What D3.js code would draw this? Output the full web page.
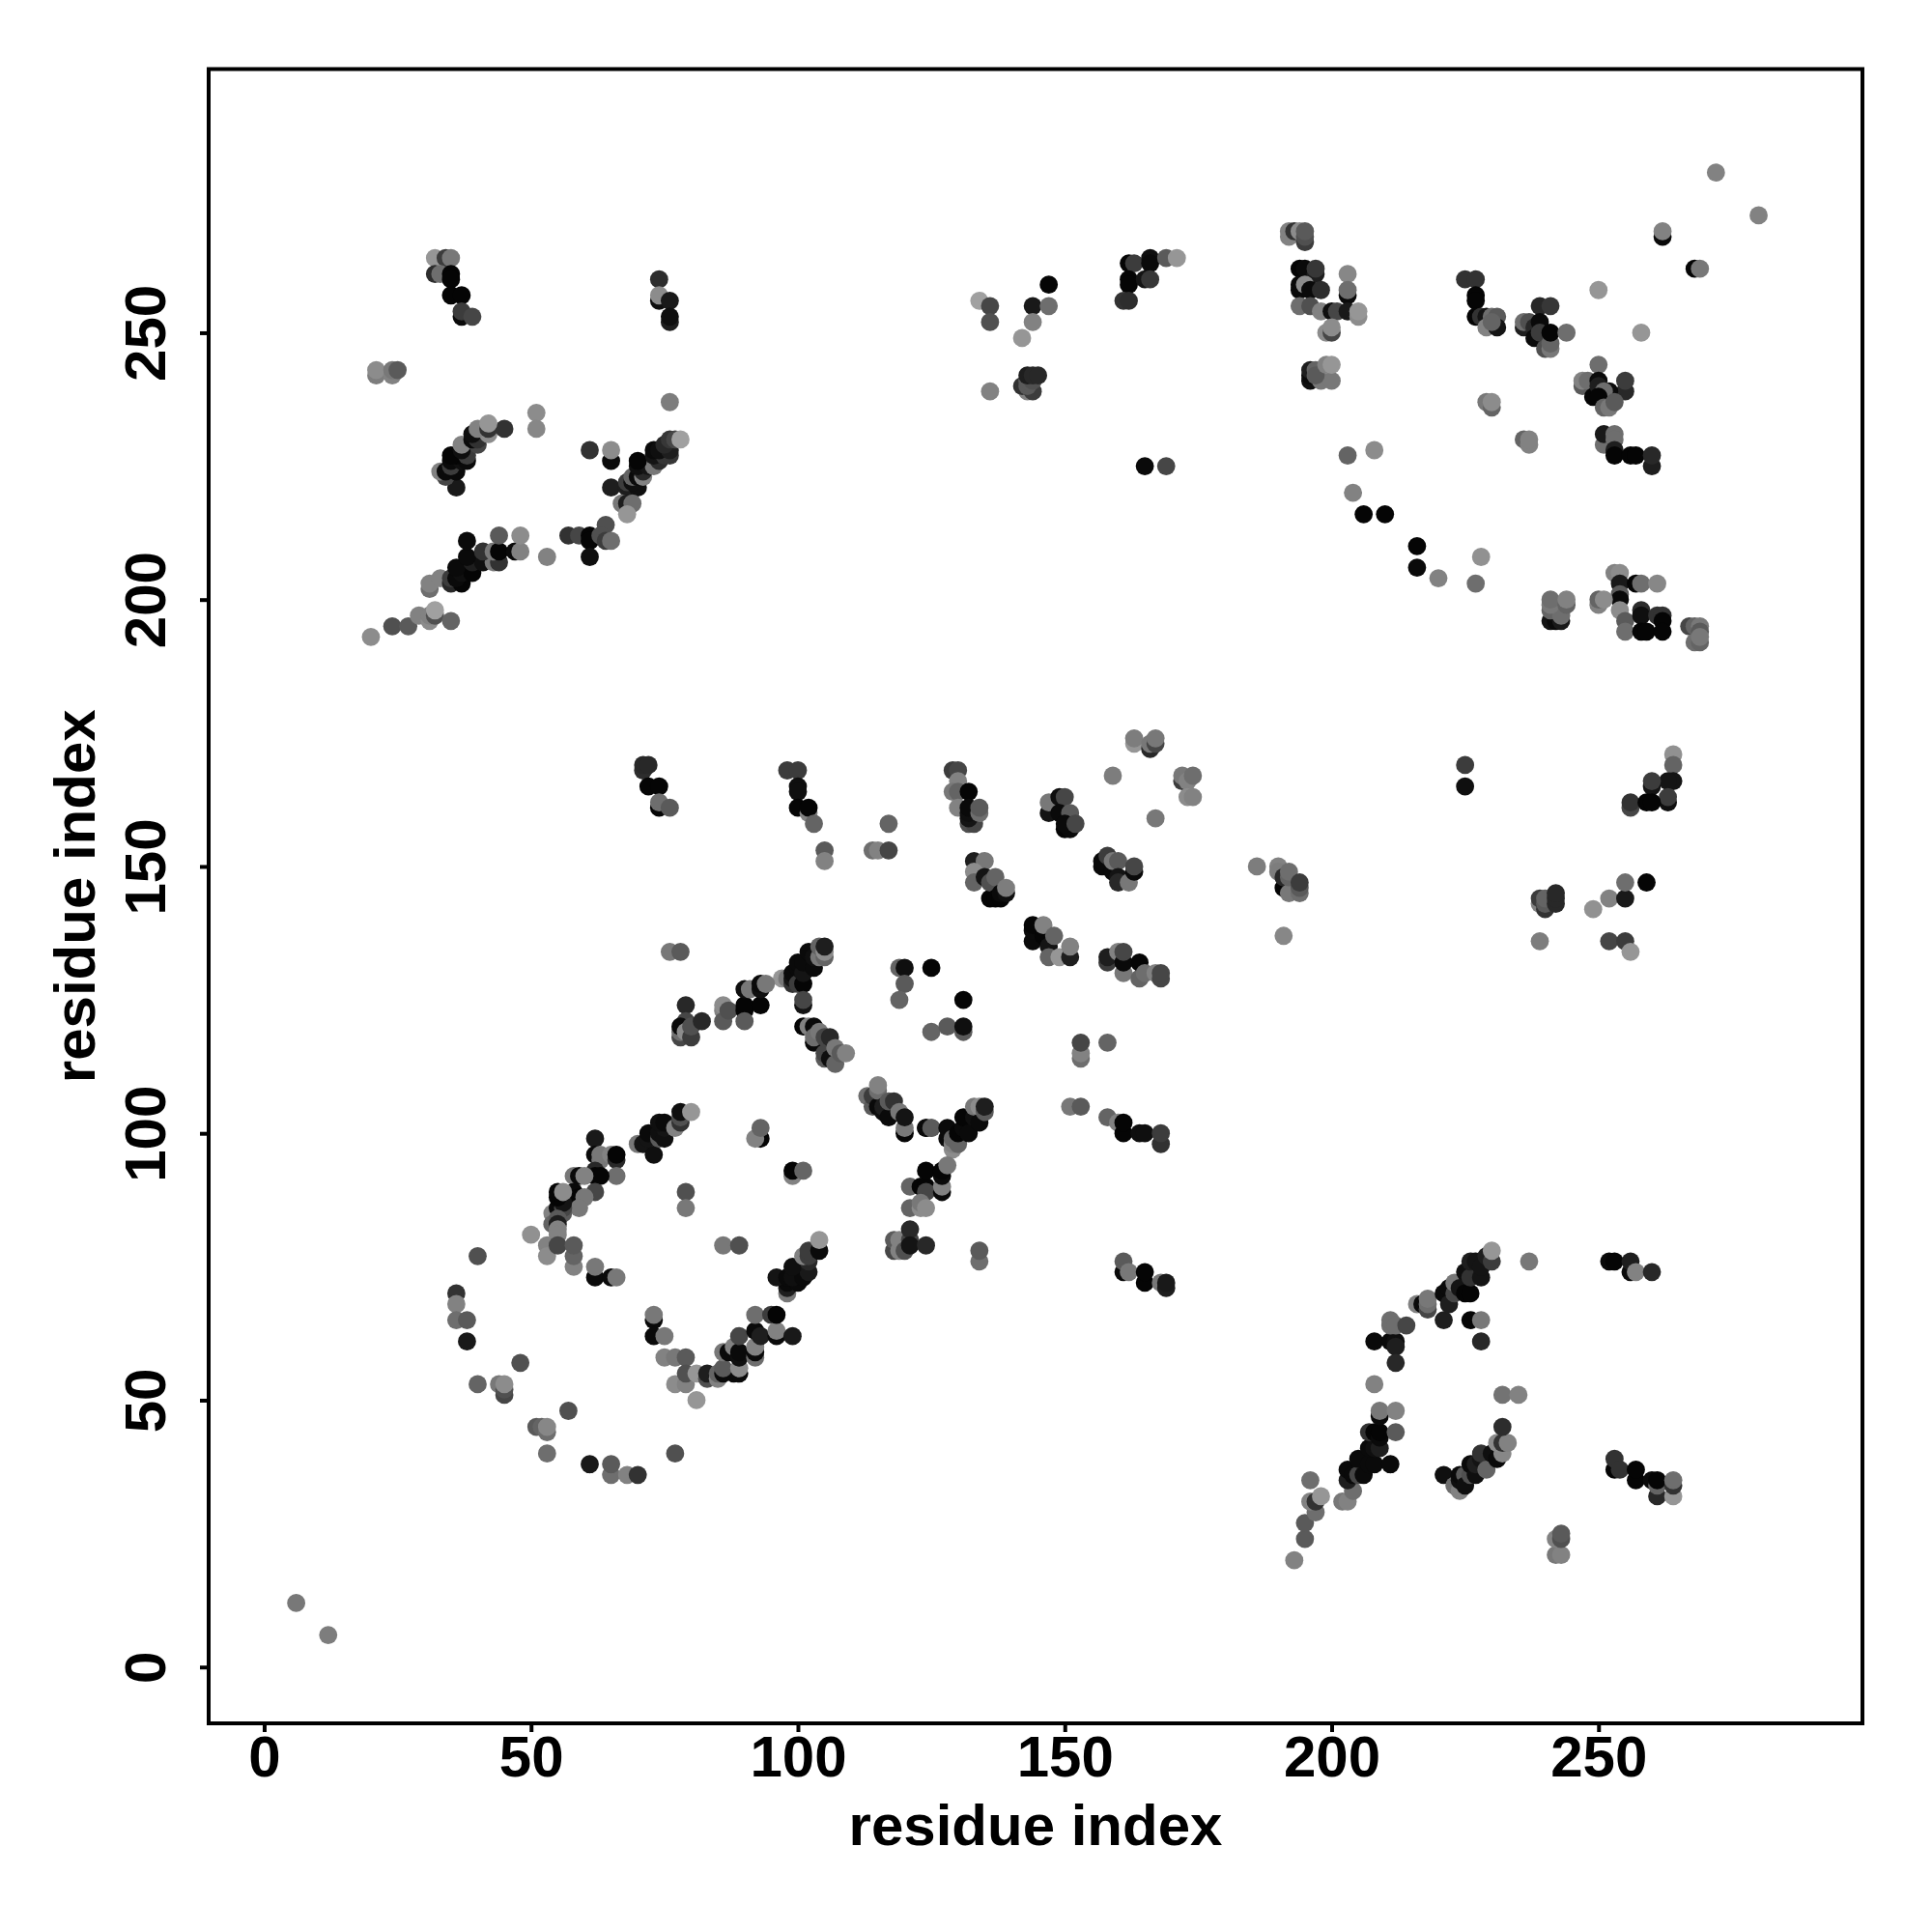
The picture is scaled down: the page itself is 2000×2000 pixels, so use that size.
<!DOCTYPE html>
<html><head><meta charset="utf-8">
<script src="https://cdn.jsdelivr.net/npm/d3@7"></script>
<style>html,body{margin:0;padding:0;background:#fff}svg{display:block}</style></head>
<body><svg id="c" width="2000" height="2000"></svg>
<script>
// each point: [residue i, residue j, grey level]
const cornerPts=[[12,6,125],[6,12,120],[272,280,130],[280,272,130]];
const upperLeftA=[[32,264,150],[34,264,60],[35,264,120],[32,261,45],[33,261,110],[35,261,5],[35,260,5],[35,257,5],[37,257,5],[37,253,10],[37,254,60],[39,253,70],[74,260,45],[74,256,15],[74,257,140],[76,256,25],[76,252,30],[76,253,15],[21,242,125],[21,243,140],[24,242,130],[24,243,120],[25,243,90]];
const upperLeftB=[[36,221,25],[34,223,70],[33,224,130],[34,224,10],[36,224,10],[35,225,60],[35,226,10],[37,226,15],[38,226,10],[36,227,5],[35,227,5],[38,227,60],[37,228,15],[37,229,130],[40,229,70],[39,230,10],[40,230,50],[39,231,15],[42,231,140],[40,232,130],[45,232,50],[42,232,50],[42,233,150],[51,235,140],[51,232,135]];
const upperLeftC=[[65,221,30],[68,221,30],[70,221,15],[68,222,60],[69,222,15],[69,223,100],[70,223,10],[71,223,130],[71,224,40],[70,225,15],[72,225,20],[73,225,120],[70,226,5],[74,226,45],[65,226,10],[65,228,140],[61,228,50],[73,227,20],[75,227,55],[76,227,55],[73,228,10],[74,228,15],[76,228,30],[75,229,40],[76,230,55],[77,230,70],[78,230,160],[76,237,125],[67,218,120],[68,218,30],[69,218,110],[68,216,150],[64,214,80]];
const upperLeftD=[[20,193,140],[24,195,80],[27,195,90],[29,197,130],[31,196,140],[31,197,130],[32,197,80],[32,198,160],[35,196,100],[31,202,110],[31,203,130],[33,204,130],[35,203,40],[37,203,5],[35,204,60],[36,204,10],[37,205,15],[39,205,5],[36,206,10],[39,207,30],[41,207,15],[43,207,120],[44,207,50],[38,208,10],[41,209,50],[43,209,120],[44,209,5],[47,209,10],[48,209,130],[48,212,140],[44,212,90],[38,211,10],[53,208,130],[57,212,50],[59,212,70],[61,212,5],[61,211,5],[61,208,15],[63,212,80],[64,211,60],[65,211,110]];
const upperMid=[[134,256,160],[136,255,70],[136,252,80],[147,259,5],[144,255,25],[147,255,110],[144,252,130],[142,249,150],[136,239,130],[143,239,130],[144,239,60],[142,240,50],[143,240,90],[143,241,90],[144,241,80],[143,242,30],[144,242,40],[145,242,40],[162,263,5],[163,263,60],[166,264,15],[166,263,10],[169,264,90],[171,264,150],[162,260,5],[162,259,5],[165,260,20],[166,260,55],[161,256,50],[162,256,45],[165,225,10],[169,225,70]];
const upperRightA=[[192,268,130],[192,269,130],[193,269,50],[194,269,140],[195,267,60],[195,268,80],[195,269,90],[194,262,5],[195,262,10],[197,261,30],[197,262,55],[194,259,10],[194,258,10],[195,259,140],[196,258,10],[198,258,45],[194,255,110],[196,255,80],[203,261,135],[203,257,10],[203,258,110],[198,254,130],[200,254,15],[201,254,70],[203,254,25],[205,253,140],[205,254,150],[199,250,140],[200,250,70],[200,251,140],[196,241,15],[196,242,10],[196,243,30],[198,241,120],[200,241,120],[197,243,100],[197,242,90],[199,244,130],[200,244,150],[203,227,100],[208,228,140],[204,220,130],[206,216,5],[210,216,5],[216,210,5],[216,206,10],[220,204,130],[228,208,145],[227,203,110]];
const upperRightB=[[225,260,50],[227,260,50],[227,257,5],[227,256,5],[227,253,5],[228,253,50],[229,253,20],[230,253,110],[231,253,90],[229,251,130],[231,251,20],[230,252,100],[236,251,30],[236,252,110],[237,252,80],[239,255,40],[241,255,55],[238,251,40],[239,252,10],[238,249,10],[239,250,60],[240,247,80],[241,247,120],[241,248,100],[241,250,5],[244,250,110],[250,258,150],[258,250,150],[262,268,10],[262,269,130],[268,262,5],[269,262,120]];
const upperRightC=[[250,244,110],[247,240,90],[247,241,130],[248,241,110],[250,241,10],[255,239,40],[255,241,60],[249,238,5],[250,240,30],[252,239,10],[251,239,110],[250,238,5],[251,236,100],[252,236,120],[253,237,90],[229,237,120],[230,236,100],[230,237,140],[236,230,100],[237,229,130],[237,230,130],[251,229,110],[251,231,25],[253,231,110],[253,230,110],[253,228,30],[253,227,5],[256,227,5],[257,227,5],[260,225,30],[260,227,40]];
const upperRightD=[[253,205,130],[254,205,140],[254,203,25],[257,203,5],[258,203,110],[261,203,135],[254,201,90],[254,200,10],[250,199,130],[250,200,100],[251,200,140],[254,198,140],[255,196,90],[255,194,110],[258,198,45],[258,197,15],[258,194,5],[259,194,5],[261,197,50],[262,197,50],[262,196,5],[262,194,5],[267,195,70],[268,195,100],[269,195,120],[269,194,90],[268,192,110],[269,192,100],[269,193,120],[241,196,20],[242,196,10],[243,196,25],[241,198,100],[243,198,110],[243,197,110],[241,199,120],[241,200,110],[244,199,100],[244,200,130]];
const midA=[[71,168,45],[71,169,40],[72,169,40],[72,165,5],[74,165,5],[74,161,5],[74,162,110],[76,161,90],[98,168,60],[100,168,60],[100,165,15],[100,164,15],[100,161,5],[102,160,130],[102,161,5],[103,158,100],[105,153,90],[105,151,130],[117,158,100],[114,153,110],[115,153,130],[117,153,70],[129,168,60],[130,168,70],[130,166,130],[129,164,120],[130,164,100],[132,164,5],[130,161,130],[132,158,80],[133,158,70],[132,159,20],[132,160,15],[132,161,10],[134,160,110],[134,161,90]];
const midB=[[133,151,30],[135,151,120],[133,149,140],[133,147,100],[135,148,20],[136,144,5],[136,147,80],[137,148,100],[137,144,5],[138,144,5],[138,145,10],[139,145,15],[139,146,125],[147,160,20],[147,162,120],[149,163,15],[150,163,70],[149,160,10],[151,160,90],[150,157,5],[151,157,10],[150,158,10],[152,158,70],[159,167,125],[163,173,150],[163,174,125],[166,172,40],[166,173,120],[167,173,70],[167,174,120],[167,159,120],[172,166,60],[172,167,120],[173,166,130],[174,167,110],[173,163,140],[174,163,130]];
const midC=[[157,150,10],[157,151,10],[158,152,60],[159,149,10],[159,151,120],[160,151,90],[160,148,20],[160,147,40],[162,147,120],[163,149,10],[163,150,70],[144,136,10],[144,138,10],[144,139,5],[146,137,5],[146,139,130],[147,135,20],[148,137,100],[147,133,100],[149,133,150],[151,133,30],[151,135,130],[158,132,60],[158,133,30],[160,134,130],[161,130,120],[161,132,10],[161,134,70],[164,129,100],[164,132,5],[165,130,110],[167,130,130],[168,129,70],[168,130,70]];
const midD=[[119,131,100],[120,131,15],[125,131,5],[120,128,90],[119,125,100],[131,125,5],[125,119,100],[128,120,90],[131,119,90],[131,120,15],[153,114,110],[153,115,130],[153,117,70],[158,117,100],[186,150,125],[190,150,130],[190,149,125],[191,146,5],[191,148,40],[192,145,120],[192,148,100],[192,149,110],[194,145,110],[194,146,90],[194,147,60],[191,137,135],[225,169,60],[225,165,15]];
const midRight=[[264,171,145],[264,169,100],[264,166,20],[263,166,20],[260,165,20],[260,166,60],[263,162,15],[263,163,60],[256,161,70],[256,162,50],[259,162,5],[260,162,5],[239,143,130],[239,144,60],[240,142,50],[240,143,90],[240,144,100],[242,143,40],[242,144,40],[242,145,40],[239,136,125],[249,142,145],[252,144,130],[255,144,25],[255,147,110],[259,147,5],[252,136,70],[255,136,60],[256,134,150]];
const centreA=[[76,134,120],[78,134,90],[97,129,150],[98,129,120],[99,128,50],[99,129,20],[99,130,10],[100,128,60],[101,128,5],[100,131,10],[100,132,10],[101,130,20],[101,132,10],[102,134,10],[103,131,10],[103,133,15],[104,133,120],[104,135,100],[105,133,100],[105,134,140],[105,135,30],[101,124,20],[101,125,70],[86,123,130],[86,124,140],[86,121,90],[87,123,80],[90,123,5],[90,124,5],[90,121,90],[90,127,15],[91,127,120],[93,124,5],[93,127,15],[93,128,10],[94,128,120],[79,124,40],[79,121,70],[78,118,70],[78,119,110],[78,120,10],[79,119,140],[80,118,60],[80,120,80],[82,121,40]];
const centreB=[[101,120,5],[102,120,130],[103,120,10],[103,117,10],[103,118,110],[104,119,120],[105,114,90],[105,115,70],[105,118,70],[106,114,15],[106,118,40],[107,113,100],[107,116,120],[108,115,90],[109,115,130],[113,107,110],[114,105,90],[114,107,60],[115,105,10],[115,108,110],[115,109,130],[116,104,15],[116,105,30],[117,103,10],[117,106,90],[118,106,50],[119,104,120],[120,100,5],[120,101,120],[120,103,20],[124,101,20],[125,101,100]];
const centreC=[[124,101,10],[125,101,90],[128,99,10],[128,101,10],[129,97,140],[129,98,130],[129,99,100],[130,98,100],[130,100,5],[131,101,10],[131,103,5],[132,100,10],[133,103,15],[133,105,120],[134,102,10],[134,105,140],[135,104,90],[135,105,30],[121,90,100],[123,90,5],[124,90,5],[124,93,5],[124,89,70],[127,89,10],[127,90,130],[127,92,10],[127,93,5],[128,94,120],[121,86,100],[123,86,140],[123,87,120],[124,86,140],[118,78,70],[118,80,90],[119,78,130],[119,80,130],[120,78,80],[121,80,70],[121,82,40],[121,79,20],[124,79,40],[134,76,110],[134,78,90]];
const centreD=[[151,105,120],[153,105,90],[158,103,100],[160,102,130],[161,100,5],[161,102,5],[164,100,15],[165,100,15],[168,98,50],[168,100,60],[161,74,10],[161,76,90],[162,74,120],[165,72,5],[165,74,5],[168,72,120],[169,71,30],[169,72,25]];
const lowerA=[[70,98,120],[71,98,20],[73,96,15],[72,99,20],[72,100,10],[74,99,90],[74,100,15],[75,99,15],[75,101,20],[74,102,15],[75,102,10],[77,101,130],[78,102,50],[78,103,80],[78,104,15],[80,104,150],[62,99,25],[62,96,10],[63,95,120],[63,96,120],[65,96,130],[66,95,40],[66,96,5],[62,93,40],[66,92,110],[62,92,5],[63,92,5],[62,89,70],[58,92,120],[59,92,10],[60,92,130],[58,89,10],[59,88,5],[60,88,120],[59,86,120]];
const lowerB=[[54,85,130],[54,83,100],[55,86,10],[56,85,90],[56,86,70],[56,87,20],[55,88,5],[55,89,5],[56,89,140],[55,84,90],[55,83,30],[55,82,130],[55,81,130],[53,79,130],[53,77,140],[50,81,145],[55,79,70],[58,75,130],[58,77,100],[58,79,90],[62,73,10],[62,75,120],[65,73,10],[66,73,120],[93,99,5],[92,99,130],[93,101,100],[99,92,130],[99,93,5],[101,93,100],[79,89,80],[79,86,120],[86,79,120],[89,79,80]];
const lowerC=[[98,70,120],[98,71,30],[98,72,10],[100,72,10],[96,73,20],[98,73,10],[99,73,15],[101,73,10],[102,74,25],[99,75,15],[102,76,40],[101,77,130],[102,77,60],[102,78,60],[104,78,10],[104,80,150]];
const lowerD=[[40,77,80],[36,70,50],[36,68,130],[36,65,110],[38,65,90],[38,61,25],[48,57,80],[40,53,100],[44,53,120],[45,51,70],[45,52,80],[45,53,140],[57,48,80],[51,45,90],[52,45,100],[53,44,110],[53,45,135],[53,40,110],[61,38,25],[65,36,110],[65,38,90],[68,36,130],[70,36,50],[77,40,80]];
const lowerE=[[73,65,10],[73,66,120],[73,62,10],[75,62,120],[75,58,130],[77,58,120],[79,58,90],[77,53,140],[79,53,130],[79,55,80],[81,50,150],[81,55,150],[83,54,80],[83,55,30],[85,54,130],[85,55,100],[86,55,10],[88,55,10],[89,55,10],[86,56,90],[89,56,140],[86,59,120],[87,59,10],[88,60,130],[89,58,15],[89,59,10],[89,62,70],[92,58,110],[92,59,10],[92,60,130],[92,63,10],[93,62,30],[92,66,110],[95,66,60],[96,62,10],[96,63,130],[96,66,5],[99,62,25]];
const lowerRightA=[[193,20,130],[195,24,90],[195,27,90],[197,29,110],[196,31,130],[197,31,50],[198,32,150],[196,35,110],[202,31,120],[203,31,130],[204,33,110],[203,35,30],[203,37,10],[204,36,10],[205,36,70],[206,36,10],[205,39,10],[207,38,10],[208,38,10],[211,38,10],[207,41,10],[208,41,15],[209,41,30],[207,44,50],[208,44,5],[209,43,10],[209,44,5],[209,47,10],[209,48,120],[212,48,130],[212,44,90],[208,53,130],[208,61,10],[211,61,10],[212,61,15],[212,60,30],[212,57,40],[211,64,110],[211,65,110],[212,64,110],[214,64,70]];
const lowerRightB=[[216,68,130],[217,68,10],[218,67,70],[218,68,110],[218,69,120],[221,65,30],[221,70,10],[222,68,30],[222,71,10],[223,70,70],[223,72,120],[224,71,20],[225,70,5],[226,70,5],[225,74,15],[226,73,50],[226,76,30],[227,76,20],[228,73,20],[228,75,20],[226,65,5],[228,65,120],[228,61,40],[229,77,30],[230,76,60],[230,78,150],[237,76,120],[232,51,115],[235,51,130]];
const lowerRightC=[[221,36,15],[223,34,110],[224,33,130],[224,35,15],[224,36,10],[225,36,90],[225,34,15],[226,36,80],[226,38,10],[227,36,15],[227,38,30],[228,39,20],[228,40,50],[229,37,100],[230,40,15],[231,39,10],[232,40,135],[231,42,140],[232,42,50],[233,42,130],[232,45,45],[252,76,10],[253,76,5],[256,74,10],[256,76,30],[257,74,130],[260,74,40],[253,37,5],[253,39,50],[254,37,50],[257,35,5],[257,37,5],[260,35,10],[261,32,40],[261,34,100],[261,35,5],[264,32,150],[264,34,50],[264,35,110],[242,21,120],[243,21,130],[242,24,130],[243,24,80],[243,25,90]];
const points=[cornerPts,upperLeftA,upperLeftB,upperLeftC,upperLeftD,upperMid,upperRightA,upperRightB,upperRightC,upperRightD,midA,midB,midC,midD,midRight,centreA,centreB,centreC,centreD,lowerA,lowerB,lowerC,lowerD,lowerE,lowerRightA,lowerRightB,lowerRightC].flat();
const xTicks=[0,50,100,150,200,250], yTicks=[0,50,100,150,200,250];
const axisLabel="residue index";

const L=216,R=1928,T=71.5,B=1784;
const x=d3.scaleLinear().domain([-10.4,299.45]).range([L,R]);
const y=d3.scaleLinear().domain([-10.55,299.4]).range([B,T]);
const svg=d3.select("#c");
const font="'Liberation Sans',Arial,sans-serif";
svg.append("g").selectAll("circle").data(points).join("circle")
  .attr("cx",d=>x(d[0])).attr("cy",d=>y(d[1])).attr("r",9.4)
  .attr("fill",d=>d3.rgb(d[2],d[2],d[2]));
svg.append("rect").attr("x",L).attr("y",T).attr("width",R-L).attr("height",B-T)
  .attr("fill","none").attr("stroke","#000").attr("stroke-width",4);
const ax=svg.append("g").attr("transform",`translate(0,${B})`)
  .call(d3.axisBottom(x).tickValues(xTicks).tickSize(9).tickPadding(12));
const ay=svg.append("g").attr("transform",`translate(${L},0)`)
  .call(d3.axisLeft(y).tickValues(yTicks).tickSize(9).tickPadding(12));
[ax,ay].forEach(g=>{g.select(".domain").remove();
  g.selectAll("line").attr("stroke","#000").attr("stroke-width",4);
  g.selectAll("text").attr("fill","#000").attr("font-family",font).attr("font-weight","bold").attr("font-size",60);});
ax.selectAll("text").attr("dy",null).attr("y",55);
ay.selectAll("text").attr("x",null).attr("dy",null).attr("text-anchor","middle")
  .attr("transform","translate(-45,0) rotate(-90)");
svg.append("text").attr("x",(L+R)/2).attr("y",1910).attr("text-anchor","middle")
  .attr("font-family",font).attr("font-weight","bold").attr("font-size",60).text(axisLabel);
svg.append("text").attr("transform",`translate(98,${(T+B)/2}) rotate(-90)`).attr("text-anchor","middle")
  .attr("font-family",font).attr("font-weight","bold").attr("font-size",60).text(axisLabel);
</script></body></html>
